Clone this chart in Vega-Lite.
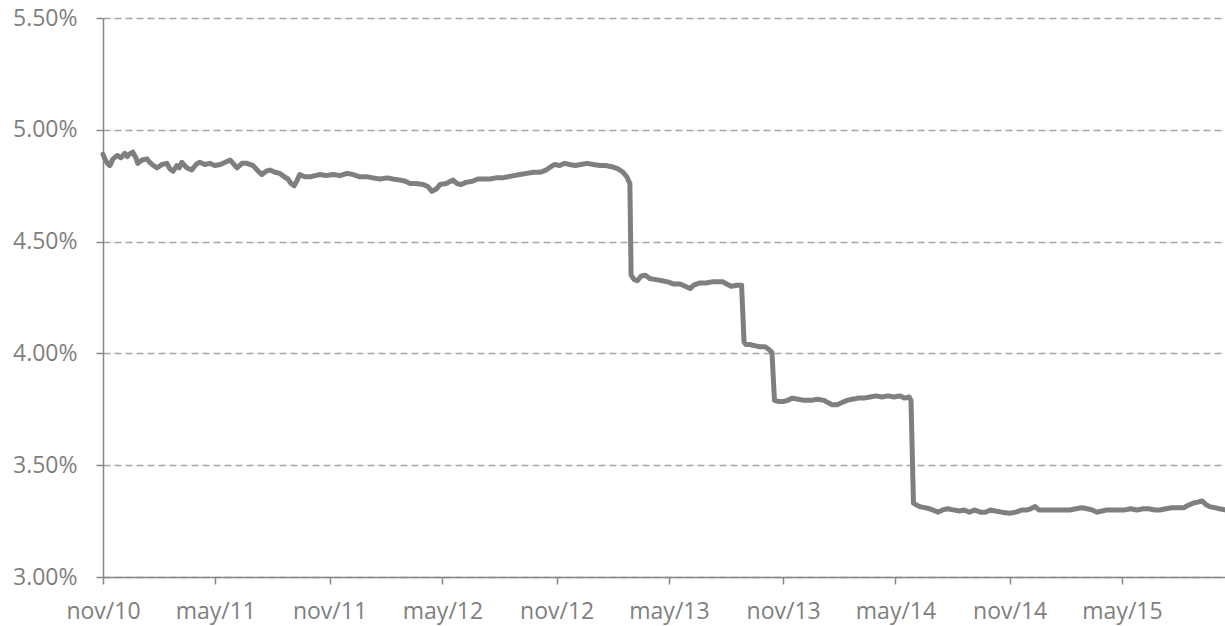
{
  "$schema": "https://vega.github.io/schema/vega-lite/v6.json",
  "width": 1122,
  "height": 559,
  "autosize": "none",
  "padding": {"left": 103, "top": 18, "right": 0, "bottom": 49},
  "background": "white",
  "config": {"view": {"stroke": null}},
  "data": {"values": [
    {"date": "2010-11-01", "rate": 4.89},
    {"date": "2010-11-04", "rate": 4.87},
    {"date": "2010-11-08", "rate": 4.85},
    {"date": "2010-11-12", "rate": 4.84},
    {"date": "2010-11-17", "rate": 4.87},
    {"date": "2010-11-24", "rate": 4.885},
    {"date": "2010-11-30", "rate": 4.875},
    {"date": "2010-12-06", "rate": 4.895},
    {"date": "2010-12-10", "rate": 4.88},
    {"date": "2010-12-13", "rate": 4.89},
    {"date": "2010-12-19", "rate": 4.9},
    {"date": "2010-12-24", "rate": 4.875},
    {"date": "2010-12-27", "rate": 4.85},
    {"date": "2011-01-03", "rate": 4.865},
    {"date": "2011-01-11", "rate": 4.87},
    {"date": "2011-01-15", "rate": 4.855},
    {"date": "2011-01-19", "rate": 4.845},
    {"date": "2011-01-27", "rate": 4.83},
    {"date": "2011-02-04", "rate": 4.845},
    {"date": "2011-02-12", "rate": 4.85},
    {"date": "2011-02-17", "rate": 4.825},
    {"date": "2011-02-22", "rate": 4.815},
    {"date": "2011-02-28", "rate": 4.84},
    {"date": "2011-03-04", "rate": 4.83},
    {"date": "2011-03-08", "rate": 4.855},
    {"date": "2011-03-16", "rate": 4.83},
    {"date": "2011-03-24", "rate": 4.82},
    {"date": "2011-03-31", "rate": 4.845},
    {"date": "2011-04-06", "rate": 4.855},
    {"date": "2011-04-14", "rate": 4.845},
    {"date": "2011-04-22", "rate": 4.85},
    {"date": "2011-04-30", "rate": 4.84},
    {"date": "2011-05-09", "rate": 4.845},
    {"date": "2011-05-17", "rate": 4.855},
    {"date": "2011-05-25", "rate": 4.865},
    {"date": "2011-05-31", "rate": 4.845},
    {"date": "2011-06-05", "rate": 4.83},
    {"date": "2011-06-13", "rate": 4.85},
    {"date": "2011-06-21", "rate": 4.85},
    {"date": "2011-07-01", "rate": 4.84},
    {"date": "2011-07-09", "rate": 4.815},
    {"date": "2011-07-15", "rate": 4.8},
    {"date": "2011-07-22", "rate": 4.815},
    {"date": "2011-07-28", "rate": 4.82},
    {"date": "2011-08-05", "rate": 4.81},
    {"date": "2011-08-13", "rate": 4.805},
    {"date": "2011-08-20", "rate": 4.79},
    {"date": "2011-08-26", "rate": 4.78},
    {"date": "2011-08-31", "rate": 4.76},
    {"date": "2011-09-05", "rate": 4.75},
    {"date": "2011-09-10", "rate": 4.775},
    {"date": "2011-09-14", "rate": 4.8},
    {"date": "2011-09-22", "rate": 4.79},
    {"date": "2011-10-01", "rate": 4.79},
    {"date": "2011-10-09", "rate": 4.795},
    {"date": "2011-10-17", "rate": 4.8},
    {"date": "2011-10-26", "rate": 4.795},
    {"date": "2011-11-07", "rate": 4.8},
    {"date": "2011-11-18", "rate": 4.795},
    {"date": "2011-11-29", "rate": 4.805},
    {"date": "2011-12-09", "rate": 4.8},
    {"date": "2011-12-20", "rate": 4.79},
    {"date": "2011-12-31", "rate": 4.79},
    {"date": "2012-01-10", "rate": 4.785},
    {"date": "2012-01-21", "rate": 4.78},
    {"date": "2012-02-02", "rate": 4.785},
    {"date": "2012-02-11", "rate": 4.78},
    {"date": "2012-02-23", "rate": 4.775},
    {"date": "2012-03-02", "rate": 4.77},
    {"date": "2012-03-10", "rate": 4.76},
    {"date": "2012-03-19", "rate": 4.76},
    {"date": "2012-03-31", "rate": 4.755},
    {"date": "2012-04-08", "rate": 4.745},
    {"date": "2012-04-14", "rate": 4.725},
    {"date": "2012-04-21", "rate": 4.735},
    {"date": "2012-04-27", "rate": 4.755},
    {"date": "2012-05-07", "rate": 4.76},
    {"date": "2012-05-18", "rate": 4.775},
    {"date": "2012-05-24", "rate": 4.76},
    {"date": "2012-05-31", "rate": 4.755},
    {"date": "2012-06-08", "rate": 4.765},
    {"date": "2012-06-18", "rate": 4.77},
    {"date": "2012-06-27", "rate": 4.78},
    {"date": "2012-07-07", "rate": 4.78},
    {"date": "2012-07-17", "rate": 4.78},
    {"date": "2012-07-26", "rate": 4.785},
    {"date": "2012-08-05", "rate": 4.785},
    {"date": "2012-08-15", "rate": 4.79},
    {"date": "2012-08-24", "rate": 4.795},
    {"date": "2012-09-03", "rate": 4.8},
    {"date": "2012-09-14", "rate": 4.805},
    {"date": "2012-09-25", "rate": 4.81},
    {"date": "2012-10-05", "rate": 4.81},
    {"date": "2012-10-15", "rate": 4.82},
    {"date": "2012-10-23", "rate": 4.835},
    {"date": "2012-10-29", "rate": 4.845},
    {"date": "2012-11-06", "rate": 4.84},
    {"date": "2012-11-14", "rate": 4.85},
    {"date": "2012-11-22", "rate": 4.845},
    {"date": "2012-12-01", "rate": 4.84},
    {"date": "2012-12-10", "rate": 4.845},
    {"date": "2012-12-20", "rate": 4.85},
    {"date": "2012-12-30", "rate": 4.845},
    {"date": "2013-01-10", "rate": 4.84},
    {"date": "2013-01-19", "rate": 4.84},
    {"date": "2013-01-29", "rate": 4.835},
    {"date": "2013-02-08", "rate": 4.825},
    {"date": "2013-02-16", "rate": 4.81},
    {"date": "2013-02-22", "rate": 4.79},
    {"date": "2013-02-27", "rate": 4.76},
    {"date": "2013-03-01", "rate": 4.35},
    {"date": "2013-03-06", "rate": 4.33},
    {"date": "2013-03-11", "rate": 4.325},
    {"date": "2013-03-17", "rate": 4.345},
    {"date": "2013-03-24", "rate": 4.35},
    {"date": "2013-03-31", "rate": 4.335},
    {"date": "2013-04-10", "rate": 4.33},
    {"date": "2013-04-20", "rate": 4.325},
    {"date": "2013-04-29", "rate": 4.32},
    {"date": "2013-05-09", "rate": 4.31},
    {"date": "2013-05-19", "rate": 4.31},
    {"date": "2013-05-27", "rate": 4.3},
    {"date": "2013-06-04", "rate": 4.29},
    {"date": "2013-06-10", "rate": 4.305},
    {"date": "2013-06-20", "rate": 4.315},
    {"date": "2013-06-30", "rate": 4.315},
    {"date": "2013-07-09", "rate": 4.32},
    {"date": "2013-07-19", "rate": 4.32},
    {"date": "2013-07-27", "rate": 4.32},
    {"date": "2013-08-02", "rate": 4.31},
    {"date": "2013-08-09", "rate": 4.3},
    {"date": "2013-08-19", "rate": 4.305},
    {"date": "2013-08-26", "rate": 4.305},
    {"date": "2013-08-30", "rate": 4.05},
    {"date": "2013-09-02", "rate": 4.04},
    {"date": "2013-09-08", "rate": 4.04},
    {"date": "2013-09-16", "rate": 4.035},
    {"date": "2013-09-24", "rate": 4.03},
    {"date": "2013-10-03", "rate": 4.03},
    {"date": "2013-10-08", "rate": 4.02},
    {"date": "2013-10-14", "rate": 4.005},
    {"date": "2013-10-18", "rate": 3.79},
    {"date": "2013-10-24", "rate": 3.785},
    {"date": "2013-11-02", "rate": 3.785},
    {"date": "2013-11-08", "rate": 3.79},
    {"date": "2013-11-16", "rate": 3.8},
    {"date": "2013-11-25", "rate": 3.795},
    {"date": "2013-12-05", "rate": 3.79},
    {"date": "2013-12-16", "rate": 3.79},
    {"date": "2013-12-26", "rate": 3.795},
    {"date": "2014-01-06", "rate": 3.79},
    {"date": "2014-01-12", "rate": 3.78},
    {"date": "2014-01-19", "rate": 3.77},
    {"date": "2014-01-27", "rate": 3.77},
    {"date": "2014-02-04", "rate": 3.78},
    {"date": "2014-02-12", "rate": 3.79},
    {"date": "2014-02-20", "rate": 3.795},
    {"date": "2014-03-02", "rate": 3.8},
    {"date": "2014-03-11", "rate": 3.8},
    {"date": "2014-03-21", "rate": 3.805},
    {"date": "2014-03-31", "rate": 3.81},
    {"date": "2014-04-09", "rate": 3.805},
    {"date": "2014-04-19", "rate": 3.81},
    {"date": "2014-04-29", "rate": 3.805},
    {"date": "2014-05-08", "rate": 3.81},
    {"date": "2014-05-16", "rate": 3.8},
    {"date": "2014-05-23", "rate": 3.805},
    {"date": "2014-05-26", "rate": 3.79},
    {"date": "2014-05-30", "rate": 3.33},
    {"date": "2014-06-05", "rate": 3.32},
    {"date": "2014-06-09", "rate": 3.315},
    {"date": "2014-06-17", "rate": 3.31},
    {"date": "2014-06-25", "rate": 3.305},
    {"date": "2014-07-05", "rate": 3.295},
    {"date": "2014-07-08", "rate": 3.29},
    {"date": "2014-07-16", "rate": 3.3},
    {"date": "2014-07-24", "rate": 3.305},
    {"date": "2014-08-02", "rate": 3.3},
    {"date": "2014-08-12", "rate": 3.295},
    {"date": "2014-08-20", "rate": 3.3},
    {"date": "2014-08-28", "rate": 3.29},
    {"date": "2014-09-05", "rate": 3.3},
    {"date": "2014-09-15", "rate": 3.29},
    {"date": "2014-09-23", "rate": 3.29},
    {"date": "2014-10-01", "rate": 3.3},
    {"date": "2014-10-09", "rate": 3.295},
    {"date": "2014-10-19", "rate": 3.29},
    {"date": "2014-11-01", "rate": 3.285},
    {"date": "2014-11-11", "rate": 3.29},
    {"date": "2014-11-21", "rate": 3.3},
    {"date": "2014-11-29", "rate": 3.3},
    {"date": "2014-12-05", "rate": 3.305},
    {"date": "2014-12-12", "rate": 3.315},
    {"date": "2014-12-18", "rate": 3.3},
    {"date": "2014-12-28", "rate": 3.3},
    {"date": "2015-01-08", "rate": 3.3},
    {"date": "2015-01-18", "rate": 3.3},
    {"date": "2015-01-27", "rate": 3.3},
    {"date": "2015-02-06", "rate": 3.3},
    {"date": "2015-02-16", "rate": 3.305},
    {"date": "2015-02-25", "rate": 3.31},
    {"date": "2015-03-06", "rate": 3.305},
    {"date": "2015-03-14", "rate": 3.3},
    {"date": "2015-03-22", "rate": 3.29},
    {"date": "2015-03-30", "rate": 3.295},
    {"date": "2015-04-07", "rate": 3.3},
    {"date": "2015-04-16", "rate": 3.3},
    {"date": "2015-04-26", "rate": 3.3},
    {"date": "2015-05-06", "rate": 3.3},
    {"date": "2015-05-15", "rate": 3.305},
    {"date": "2015-05-25", "rate": 3.3},
    {"date": "2015-06-04", "rate": 3.305},
    {"date": "2015-06-13", "rate": 3.305},
    {"date": "2015-06-23", "rate": 3.3},
    {"date": "2015-07-01", "rate": 3.3},
    {"date": "2015-07-11", "rate": 3.305},
    {"date": "2015-07-20", "rate": 3.31},
    {"date": "2015-07-30", "rate": 3.31},
    {"date": "2015-08-09", "rate": 3.31},
    {"date": "2015-08-15", "rate": 3.32},
    {"date": "2015-08-23", "rate": 3.33},
    {"date": "2015-08-31", "rate": 3.335},
    {"date": "2015-09-07", "rate": 3.34},
    {"date": "2015-09-13", "rate": 3.325},
    {"date": "2015-09-19", "rate": 3.315},
    {"date": "2015-09-27", "rate": 3.31},
    {"date": "2015-10-05", "rate": 3.305},
    {"date": "2015-10-14", "rate": 3.3}
  ]},
  "mark": {"type": "line", "color": "#7f7f7f", "strokeWidth": 5, "strokeJoin": "round", "strokeCap": "round"},
  "encoding": {
    "x": {
      "field": "date",
      "type": "temporal",
      "scale": {"type": "utc", "domain": [{"year": 2010, "month": 11, "date": 1, "utc": true}, {"year": 2015, "month": 10, "date": 14, "utc": true}], "nice": false},
      "axis": {
        "title": null,
        "grid": false,
        "values": [
          {"year": 2010, "month": 11, "date": 1, "utc": true},
          {"year": 2011, "month": 5, "date": 1, "utc": true},
          {"year": 2011, "month": 11, "date": 1, "utc": true},
          {"year": 2012, "month": 5, "date": 1, "utc": true},
          {"year": 2012, "month": 11, "date": 1, "utc": true},
          {"year": 2013, "month": 5, "date": 1, "utc": true},
          {"year": 2013, "month": 11, "date": 1, "utc": true},
          {"year": 2014, "month": 5, "date": 1, "utc": true},
          {"year": 2014, "month": 11, "date": 1, "utc": true},
          {"year": 2015, "month": 5, "date": 1, "utc": true}
        ],
        "labelExpr": "lower(utcFormat(datum.value, '%b/%y'))",
        "domainColor": "#868686",
        "domainWidth": 1.5,
        "tickColor": "#868686",
        "tickWidth": 1.5,
        "tickSize": 7,
        "labelFont": "Open Sans",
        "labelFontSize": 23,
        "labelColor": "#7f7f7f",
        "labelPadding": 16,
        "labelFlush": false,
        "labelOverlap": false
      }
    },
    "y": {
      "field": "rate",
      "type": "quantitative",
      "scale": {"domain": [3, 5.5], "nice": false, "zero": false},
      "axis": {
        "title": null,
        "values": [3, 3.5, 4, 4.5, 5, 5.5],
        "labelExpr": "format(datum.value, '.2f') + '%'",
        "grid": true,
        "gridColor": "#a6a6a6",
        "gridDash": [7, 4],
        "gridWidth": 1.3,
        "domainColor": "#868686",
        "domainWidth": 1.5,
        "tickColor": "#868686",
        "tickWidth": 1.5,
        "tickSize": 7,
        "labelFont": "Open Sans",
        "labelFontSize": 23,
        "labelColor": "#7f7f7f",
        "labelPadding": 19
      }
    }
  }
}
